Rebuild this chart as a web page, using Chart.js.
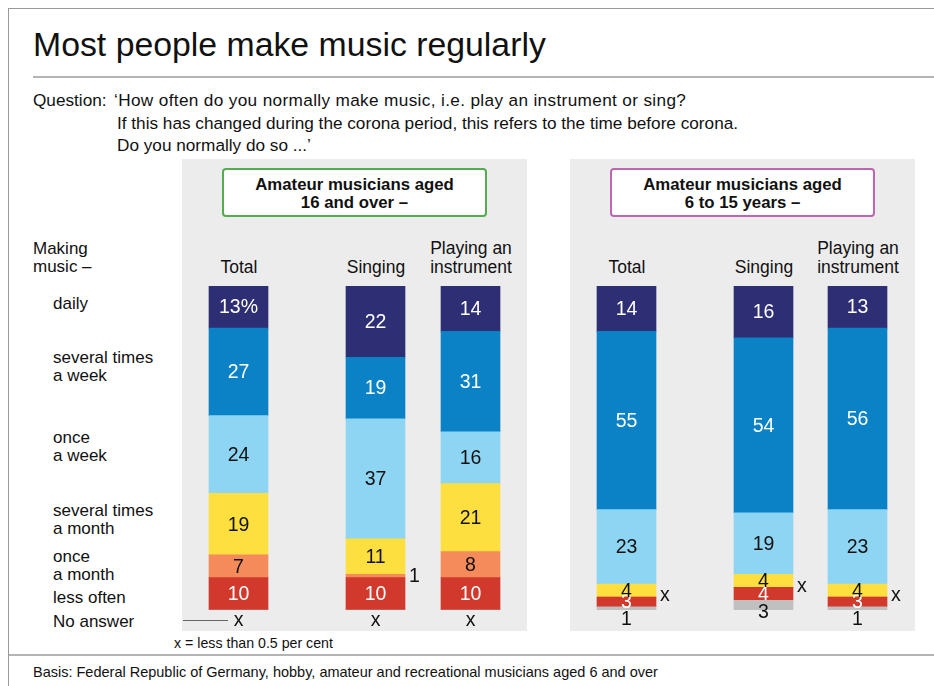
<!DOCTYPE html>
<html>
<head>
<meta charset="utf-8">
<script src="https://cdn.jsdelivr.net/npm/chart.js@4/dist/chart.umd.min.js"></script>
<style>
  body { margin: 0; background: #fff; }
  #wrap { position: relative; width: 934px; height: 686px; overflow: hidden; font-family: "Liberation Sans", Arial, sans-serif; color: #111; }
  .t { position: absolute; white-space: nowrap; line-height: 1; }
  .q { position: absolute; white-space: nowrap; line-height: 1; font-size: 17.2px; }
  .frame { position: absolute; left: 8px; top: 8px; width: 926px; height: 678px; border-top: 1px solid #9a9a9a; border-left: 1px solid #9a9a9a; }
  .rule { position: absolute; height: 2px; background: #b4b4b4; }
  .panel { position: absolute; background: #ececec; }
  .box { position: absolute; background: #fff; border: 2px solid; border-radius: 4px; box-sizing: border-box; text-align: center; font-weight: bold; font-size: 16.8px; line-height: 18px; padding-top: 6px; }
  .head { position: absolute; text-align: center; font-size: 17.5px; line-height: 19px; width: 120px; }
  .lab { position: absolute; left: 53px; font-size: 17px; line-height: 18px; }
  canvas { position: absolute; left: 0; top: 0; }
</style>
</head>
<body>
<div id="wrap">
  <div class="frame"></div>
  <div class="t" style="left:33px;top:28px;font-size:33.8px;">Most people make music regularly</div>
  <div class="rule" style="left:33px;top:76px;width:901px;"></div>

  <div class="q" style="left:33px;top:92px;">Question:</div>
  <div class="q" style="left:114px;top:92px;letter-spacing:0.35px;">‘How often do you normally make music, i.e. play an instrument or sing?</div>
  <div class="q" style="left:117px;top:115px;">If this has changed during the corona period, this refers to the time before corona.</div>
  <div class="q" style="left:117px;top:137px;">Do you normally do so ...’</div>

  <div class="panel" style="left:182px;top:159px;width:345px;height:472px;"></div>
  <div class="panel" style="left:570px;top:159px;width:345px;height:472px;"></div>

  <div class="box" style="left:222px;top:168px;width:265px;height:49px;border-color:#52ad4d;">Amateur musicians aged<br>16 and over –</div>
  <div class="box" style="left:610px;top:168px;width:265px;height:49px;border-color:#c064b4;">Amateur musicians aged<br>6 to 15 years –</div>

  <div class="head" style="left:179px;top:258px;">Total</div>
  <div class="head" style="left:316px;top:258px;">Singing</div>
  <div class="head" style="left:411px;top:239px;">Playing an<br>instrument</div>
  <div class="head" style="left:567px;top:258px;">Total</div>
  <div class="head" style="left:704px;top:258px;">Singing</div>
  <div class="head" style="left:798px;top:239px;">Playing an<br>instrument</div>

  <div class="lab" style="left:33px;top:240px;">Making<br>music –</div>
  <div class="lab" style="top:295px;">daily</div>
  <div class="lab" style="top:349px;">several times<br>a week</div>
  <div class="lab" style="top:429px;">once<br>a week</div>
  <div class="lab" style="top:502px;">several times<br>a month</div>
  <div class="lab" style="top:548px;">once<br>a month</div>
  <div class="lab" style="top:589px;">less often</div>
  <div class="lab" style="top:613px;">No answer</div>
  <div style="position:absolute;left:183px;top:620px;width:45px;height:1px;background:#666;"></div>

  <div class="t" style="left:174px;top:636px;font-size:14.2px;">x = less than 0.5 per cent</div>
  <div class="rule" style="left:9px;top:654px;width:925px;"></div>
  <div class="t" style="left:33px;top:665px;font-size:14.5px;">Basis: Federal Republic of Germany, hobby, amateur and recreational musicians aged 6 and over</div>

  <canvas id="chart" width="934" height="686"></canvas>
</div>

<script>
// columns: adults (16+) then children (6-15)
const columns = ['Total', 'Singing', 'Playing an instrument', 'Total', 'Singing', 'Playing an instrument'];

// per cent per column; 0 stands for "x" (less than 0.5 per cent)
const daily        = [13, 22, 14, 14, 16, 13];
const severalWeek  = [27, 19, 31, 55, 54, 56];
const onceWeek     = [24, 37, 16, 23, 19, 23];
const severalMonth = [19, 11, 21, 4, 4, 4];
const onceMonth    = [7, 1, 8, 0, 0, 0];
const lessOften    = [10, 10, 10, 3, 4, 3];
const noAnswer     = [0, 0, 0, 1, 3, 1];

// layout: horizontal centre of each column on the page
const columnX = [238.5, 375.5, 470.5, 626.5, 763.5, 857.5];
const barTop = 286, barBottom = 610;

// stacked from the bottom up
const series = [
  { name: 'No answer',             values: noAnswer,     color: '#c0c0c0', text: '#111', place: 'below' },
  { name: 'less often',            values: lessOften,    color: '#d0392b', text: '#fff', place: 'inside' },
  { name: 'once a month',          values: onceMonth,    color: '#f58a5a', text: '#111', place: 'inside' },
  { name: 'several times a month', values: severalMonth, color: '#fde040', text: '#111', place: 'inside' },
  { name: 'once a week',           values: onceWeek,     color: '#8ed5f4', text: '#111', place: 'inside' },
  { name: 'several times a week',  values: severalWeek,  color: '#0b82c6', text: '#fff', place: 'inside' },
  { name: 'daily',                 values: daily,        color: '#2d2e73', text: '#fff', place: 'inside' }
];

const valueLabels = {
  id: 'valueLabels',
  afterDatasetsDraw(chart) {
    const ctx = chart.ctx;
    ctx.save();
    ctx.font = '19.5px "Liberation Sans", Arial, sans-serif';
    chart.data.datasets.forEach((ds, di) => {
      const s = series[di];
      chart.getDatasetMeta(di).data.forEach((bar, i) => {
        const v = ds.data[i].y;
        let text = v === 0 ? 'x' : String(v);
        if (s.name === 'daily' && i === 0) text += '%';
        const { x, y, base, width } = bar.getProps(['x', 'y', 'base', 'width'], true);
        const top = Math.min(y, base), bottom = Math.max(y, base);
        ctx.fillStyle = s.text;
        if (s.place === 'below') {
          ctx.fillStyle = '#111';
          ctx.textAlign = 'center';
          ctx.textBaseline = 'alphabetic';
          ctx.fillText(text, x, top + (v === 0 ? 16 : 18));
        } else if (v < 2) {
          // thin segment: label to the right of the bar
          ctx.fillStyle = '#111';
          ctx.textAlign = 'left';
          ctx.textBaseline = 'middle';
          ctx.fillText(text, x + width / 2 + 4, (top + bottom) / 2 + (v === 0 ? -1 : 1));
        } else {
          ctx.textAlign = 'center';
          ctx.textBaseline = 'middle';
          ctx.fillText(text, x, (top + bottom) / 2 + 1);
        }
      });
    });
    ctx.restore();
  }
};

new Chart(document.getElementById('chart'), {
  type: 'bar',
  data: {
    labels: columns,
    datasets: series.map(s => ({
      label: s.name,
      data: s.values.map((v, i) => ({ x: columnX[i], y: v })),
      backgroundColor: s.color,
      borderWidth: 0,
      barThickness: 59
    }))
  },
  options: {
    responsive: false,
    animation: false,
    devicePixelRatio: 1,
    layout: { padding: { top: barTop, bottom: 686 - barBottom, left: 0, right: 0 } },
    plugins: { legend: { display: false }, tooltip: { enabled: false } },
    scales: {
      x: { type: 'linear', min: 0, max: 934, offset: false, stacked: true, display: false },
      y: { min: 0, max: 100, stacked: true, display: false }
    }
  },
  plugins: [valueLabels]
});
</script>
</body>
</html>
